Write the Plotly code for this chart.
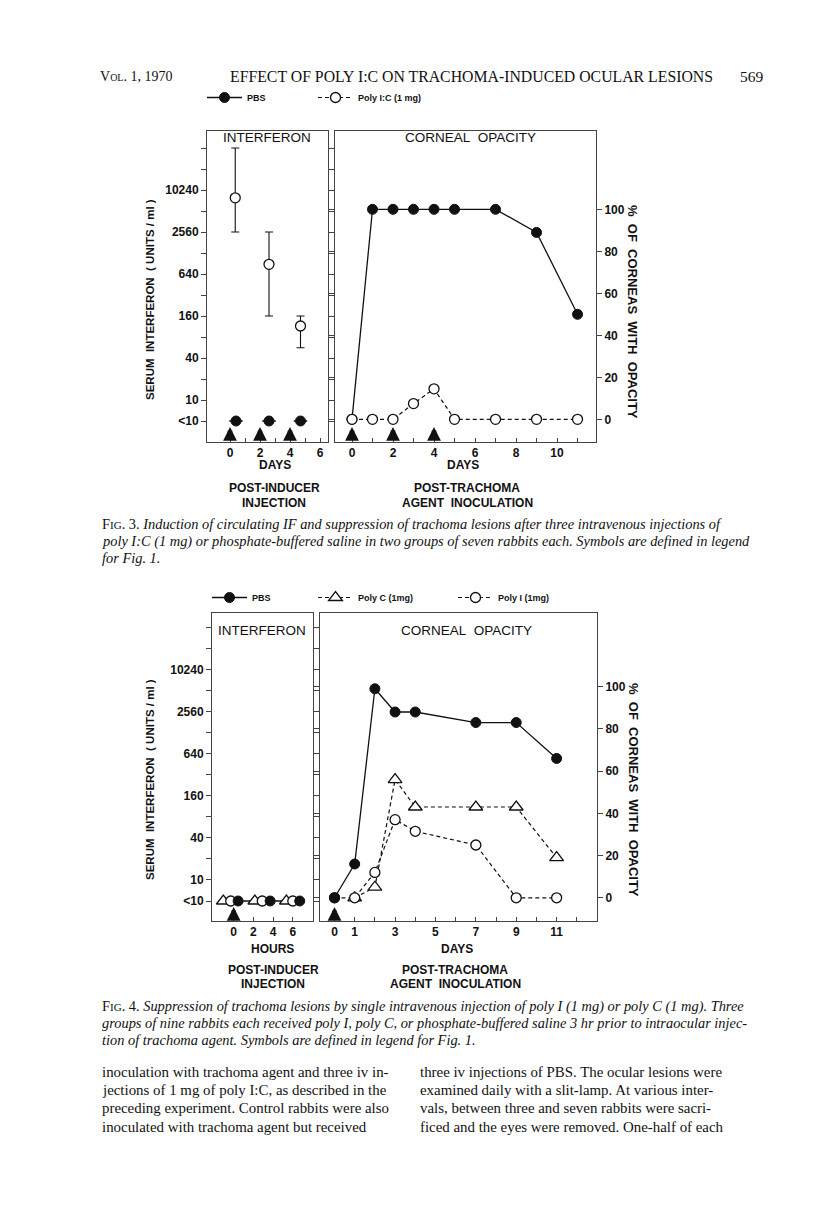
import plotly.graph_objects as go

W, H = 816, 1224
OFF = 8   # default body margin of the written page

# ---------------- data : Fig. 3 ----------------
f3_if_pic_day = [0.35, 2.6, 4.7]
f3_if_pic = [7900, 880, 115]
f3_if_pic_hi = [40960, 2560, 160]
f3_if_pic_lo = [2560, 160, 56]
f3_if_pbs_day = [0.4, 2.6, 4.7]
f3_if_pbs = [5, 5, 5]              # "<10" plotted at 5
f3_inducer_days = [0, 2, 4]
f3_op_day = [0, 1, 2, 3, 4, 5, 7, 9, 11]
f3_op_pbs = [0, 100, 100, 100, 100, 100, 100, 89, 50]
f3_op_pic = [0, 0, 0, 7.5, 14.5, 0, 0, 0, 0]
f3_agent_days = [0, 2, 4]

# ---------------- data : Fig. 4 ----------------
f4_if_polyc_hr = [-1.05, 2.15, 5.35]
f4_if_polyi_hr = [-0.3, 2.9, 6.0]
f4_if_pbs_hr = [0.45, 3.7, 6.7]
f4_if_val = [5, 5, 5]              # "<10"
f4_inducer_hr = [0]
f4_op_pbs_day = [0, 1, 2, 3, 4, 7, 9, 11]
f4_op_pbs = [0, 16, 99, 88, 88, 83, 83, 66]
f4_op_polyc_day = [1, 2, 3, 4, 7, 9, 11]
f4_op_polyc = [0, 5, 56, 43, 43, 43, 19]
f4_op_polyi_day = [0, 1, 2, 3, 4, 7, 9, 11]
f4_op_polyi = [0, 0, 12, 37, 31.5, 25, 0, 0]
f4_agent_days = [0]

# tick labels
if_tickvals = [5, 10, 20, 40, 80, 160, 320, 640, 1280, 2560, 5120, 10240, 20480, 40960]
if_ticktext = ['&lt;10', '10', '', '40', '', '160', '', '640', '', '2560', '', '10240', '', '']
pct_tickvals = [0, 20, 40, 60, 80, 100]
f3_day_ticks = list(range(0, 12))
f3_day_text = [str(d) if d % 2 == 0 else '' for d in f3_day_ticks]
f3_ind_ticks = list(range(0, 7))
f3_ind_text = [str(d) if d % 2 == 0 else '' for d in f3_ind_ticks]
f4_hr_ticks = [0, 2, 4, 6]
f4_hr_text = ['0', '2', '4', '6']
f4_day_ticks = list(range(0, 13))
f4_day_text = [str(d) if d in (0, 1, 3, 5, 7, 9, 11) else '' for d in f4_day_ticks]

SANS = 'Liberation Sans'
SERIF = 'Liberation Serif'
BLACK = '#111111'
DASH = '4px,3px'


def px_x(p):
    return (p - OFF) / W


def px_y(p):
    return 1 - (p - OFF) / H


fig = go.Figure()

filled = dict(color=BLACK, size=10, line=dict(color=BLACK, width=1))
opencirc = dict(color='white', size=10, line=dict(color=BLACK, width=1.3), symbol='circle')
opentri = dict(color='white', size=12, line=dict(color=BLACK, width=1.3), symbol='triangle-up')

# ---- Fig 3 left : interferon ----
fig.add_trace(go.Scatter(x=f3_if_pbs_day, y=f3_if_pbs, mode='markers', marker=filled,
                         error_x=dict(type='constant', value=0.45, width=0, thickness=1.5, color=BLACK),
                         xaxis='x', yaxis='y', showlegend=False))
fig.add_trace(go.Scatter(x=f3_if_pic_day, y=f3_if_pic, mode='markers', marker=opencirc,
                         error_y=dict(type='data', symmetric=False,
                                      array=[h - v for h, v in zip(f3_if_pic_hi, f3_if_pic)],
                                      arrayminus=[v - l for v, l in zip(f3_if_pic, f3_if_pic_lo)],
                                      width=4, thickness=1.1, color=BLACK),
                         xaxis='x', yaxis='y', showlegend=False))
# ---- Fig 3 right : corneal opacity ----
fig.add_trace(go.Scatter(x=f3_op_day, y=f3_op_pbs, mode='lines+markers', name='PBS',
                         line=dict(color=BLACK, width=1.3), marker=filled,
                         xaxis='x2', yaxis='y2', legend='legend'))
fig.add_trace(go.Scatter(x=f3_op_day, y=f3_op_pic, mode='lines+markers', name='Poly I:C (1 mg)',
                         line=dict(color=BLACK, width=1.2, dash=DASH), marker=opencirc,
                         xaxis='x2', yaxis='y2', legend='legend'))

# ---- Fig 4 left : interferon ----
fig.add_trace(go.Scatter(x=f4_if_pbs_hr, y=f4_if_val, mode='lines', line=dict(color=BLACK, width=1.3),
                         xaxis='x3', yaxis='y3', showlegend=False))
fig.add_trace(go.Scatter(x=f4_if_polyc_hr, y=f4_if_val, mode='markers', marker=opentri,
                         xaxis='x3', yaxis='y3', showlegend=False))
fig.add_trace(go.Scatter(x=f4_if_polyi_hr, y=f4_if_val, mode='markers', marker=opencirc,
                         xaxis='x3', yaxis='y3', showlegend=False))
fig.add_trace(go.Scatter(x=f4_if_pbs_hr, y=f4_if_val, mode='markers', marker=filled,
                         xaxis='x3', yaxis='y3', showlegend=False))
# ---- Fig 4 right : corneal opacity ----
fig.add_trace(go.Scatter(x=f4_op_polyc_day, y=f4_op_polyc, mode='lines+markers', name='Poly C (1mg)',
                         line=dict(color=BLACK, width=1.2, dash=DASH), marker=opentri,
                         xaxis='x4', yaxis='y4', legend='legend2', legendrank=2, legendwidth=90))
fig.add_trace(go.Scatter(x=f4_op_polyi_day, y=f4_op_polyi, mode='lines+markers', name='Poly I (1mg)',
                         line=dict(color=BLACK, width=1.2, dash=DASH), marker=opencirc,
                         xaxis='x4', yaxis='y4', legend='legend2', legendrank=3, legendwidth=70))
fig.add_trace(go.Scatter(x=f4_op_pbs_day, y=f4_op_pbs, mode='lines+markers', name='PBS',
                         line=dict(color=BLACK, width=1.3), marker=filled,
                         xaxis='x4', yaxis='y4', legend='legend2', legendrank=1, legendwidth=56))

# ---------------- axes ----------------
tickfont = dict(family=SANS, size=12, color=BLACK, weight='bold')


def ax_common(mirror='ticks', **kw):
    d = dict(showline=True, linecolor='#444444', linewidth=1, mirror=mirror, showgrid=False,
             zeroline=False, tickfont=tickfont, tickcolor='#444444', tickwidth=1, fixedrange=True)
    d.update(kw)
    return d


# pixel geometry of the panels
f3_top, f3_bot = 131, 442
f4_top, f4_bot = 613, 921

fig.update_layout(
    xaxis=ax_common(mirror=True, domain=[px_x(207), px_x(328)], range=[-1.533, 6.533], anchor='y',
                    tickmode='array', tickvals=f3_ind_ticks, ticktext=f3_ind_text, ticks='inside', ticklen=4),
    yaxis=ax_common(domain=[px_y(f3_bot), px_y(f3_top)], type='log', range=[0.398, 4.856], anchor='x',
                    tickmode='array', tickvals=if_tickvals, ticktext=if_ticktext, ticks='outside', ticklen=5),
    xaxis2=ax_common(mirror=True, domain=[px_x(335), px_x(596)], range=[-0.829, 11.9], anchor='y2',
                     tickmode='array', tickvals=f3_day_ticks, ticktext=f3_day_text, ticks='inside', ticklen=4),
    yaxis2=ax_common(domain=[px_y(f3_bot), px_y(f3_top)], range=[-10.8, 137.3], anchor='x2', side='right',
                     tickmode='array', tickvals=pct_tickvals, ticks='outside', ticklen=5),
    xaxis3=ax_common(mirror=True, domain=[px_x(212), px_x(313)], range=[-2.2, 8.05], anchor='y3',
                     tickmode='array', tickvals=f4_hr_ticks, ticktext=f4_hr_text, ticks='inside', ticklen=4),
    yaxis3=ax_common(domain=[px_y(f4_bot), px_y(f4_top)], type='log', range=[0.413, 4.816], anchor='x3',
                     tickmode='array', tickvals=if_tickvals, ticktext=if_ticktext, ticks='outside', ticklen=5),
    xaxis4=ax_common(mirror=True, domain=[px_x(320), px_x(597)], range=[-0.718, 13.0], anchor='y4',
                     tickmode='array', tickvals=f4_day_ticks, ticktext=f4_day_text, ticks='inside', ticklen=4),
    yaxis4=ax_common(domain=[px_y(f4_bot), px_y(f4_top)], range=[-11.0, 134.9], anchor='x4', side='right',
                     tickmode='array', tickvals=pct_tickvals, ticks='outside', ticklen=5),
)

legfont = dict(family=SANS, size=9, color=BLACK, weight='bold')
fig.update_layout(
    legend=dict(x=px_x(202), y=px_y(83), xanchor='left', yanchor='top', orientation='h',
                font=legfont, itemwidth=35, entrywidth=61, bgcolor='rgba(0,0,0,0)',
                itemclick=False, itemdoubleclick=False),
    legend2=dict(x=px_x(207), y=px_y(583), xanchor='left', yanchor='top', orientation='h',
                 font=legfont, itemwidth=35, traceorder='normal', bgcolor='rgba(0,0,0,0)',
                 itemclick=False, itemdoubleclick=False),
)

ann = []


def txt(x, y, s, size=12, family=SANS, bold=False, xanchor='center', angle=0):
    ann.append(dict(x=px_x(x), y=px_y(y), xref='paper', yref='paper', text=s, showarrow=False,
                    xanchor=xanchor, yanchor='middle', textangle=angle,
                    font=dict(family=family, size=size, color=BLACK,
                              weight=('bold' if bold else 'normal'))))


# header
sc = "<span style='font-size:10px'>%s</span>"
txt(98, 76, 'V' + sc % 'OL' + '. 1, 1970', 14, SERIF, xanchor='left')
txt(228, 76, 'EFFECT OF POLY I:C ON TRACHOMA-INDUCED OCULAR LESIONS', 15.8, SERIF, xanchor='left')
txt(752, 76, '569', 15.5, SERIF)

# Fig 3 panel labels
txt(267, 138, 'INTERFERON', 13.5)
txt(470, 138, 'CORNEAL&nbsp;&nbsp;OPACITY', 13.5)
txt(150, 300, 'SERUM&nbsp;&nbsp;INTERFERON&nbsp;&nbsp;(&nbsp;UNITS&nbsp;/&nbsp;ml&nbsp;)', 11.5, bold=True, angle=-90)
txt(633, 312, '%&nbsp;&nbsp;OF&nbsp;&nbsp;CORNEAS&nbsp;&nbsp;WITH&nbsp;&nbsp;OPACITY', 13, bold=True, angle=90)
txt(275, 465, 'DAYS', 12, bold=True)
txt(463, 465, 'DAYS', 12, bold=True)
txt(274, 488, 'POST-INDUCER', 12, bold=True)
txt(274, 503, 'INJECTION', 12, bold=True)
txt(467, 488, 'POST-TRACHOMA', 12, bold=True)
txt(467, 503, 'AGENT&nbsp;&nbsp;INOCULATION', 12, bold=True)

# Fig 3 caption
CAP = 14.4
fs = "F<span style='font-size:11px'>IG</span>. "
txt(100, 524, fs + '3. <i>Induction of circulating IF and suppression of trachoma lesions after three intravenous injections of</i>', CAP, SERIF, xanchor='left')
txt(100, 541, '<i>poly I:C (1 mg) or phosphate-buffered saline in two groups of seven rabbits each. Symbols are defined in legend</i>', CAP, SERIF, xanchor='left')
txt(100, 558, '<i>for Fig. 1.</i>', CAP, SERIF, xanchor='left')

# Fig 4 panel labels
txt(262, 630, 'INTERFERON', 13.5)
txt(466, 630, 'CORNEAL&nbsp;&nbsp;OPACITY', 13.5)
txt(150, 780, 'SERUM&nbsp;&nbsp;INTERFERON&nbsp;&nbsp;(&nbsp;UNITS&nbsp;/&nbsp;ml&nbsp;)', 11.5, bold=True, angle=-90)
txt(633, 790, '%&nbsp;&nbsp;OF&nbsp;&nbsp;CORNEAS&nbsp;&nbsp;WITH&nbsp;&nbsp;OPACITY', 13, bold=True, angle=90)
txt(272, 949, 'HOURS', 12, bold=True)
txt(457, 949, 'DAYS', 12, bold=True)
txt(273, 970, 'POST-INDUCER', 12, bold=True)
txt(273, 984, 'INJECTION', 12, bold=True)
txt(455, 970, 'POST-TRACHOMA', 12, bold=True)
txt(455, 984, 'AGENT&nbsp;&nbsp;INOCULATION', 12, bold=True)

# Fig 4 caption
txt(100, 1006, fs + '4. <i>Suppression of trachoma lesions by single intravenous injection of poly I (1 mg) or poly C (1 mg). Three</i>', CAP, SERIF, xanchor='left')
txt(100, 1023, '<i>groups of nine rabbits each received poly I, poly C, or phosphate-buffered saline 3 hr prior to intraocular injec-</i>', CAP, SERIF, xanchor='left')
txt(100, 1040, '<i>tion of trachoma agent. Symbols are defined in legend for Fig. 1.</i>', CAP, SERIF, xanchor='left')

# body text
left_col = ['inoculation with trachoma agent and three iv in-',
            'jections of 1 mg of poly I:C, as described in the',
            'preceding experiment. Control rabbits were also',
            'inoculated with trachoma agent but received']
right_col = ['three iv injections of PBS. The ocular lesions were',
             'examined daily with a slit-lamp. At various inter-',
             'vals, between three and seven rabbits were sacri-',
             'ficed and the eyes were removed. One-half of each']
for i, s in enumerate(left_col):
    txt(100, 1072 + i * 18.2, s, 14.9, SERIF, xanchor='left')
for i, s in enumerate(right_col):
    txt(418, 1072 + i * 18.2, s, 14.9, SERIF, xanchor='left')


# injection / inoculation arrows
def arrows(days, xref, tip_px):
    for d in days:
        ann.append(dict(x=d, y=px_y(tip_px), xref=xref, yref='paper', text='', showarrow=True,
                        ax=0, ay=14, arrowhead=2, arrowsize=0.6, arrowwidth=4.6, arrowcolor=BLACK,
                        standoff=0))


arrows(f3_inducer_days, 'x', 427)
arrows(f3_agent_days, 'x2', 427)
arrows(f4_inducer_hr, 'x3', 907)
arrows(f4_agent_days, 'x4', 907)

fig.update_layout(annotations=ann, width=W, height=H, margin=dict(l=0, r=0, t=0, b=0),
                  paper_bgcolor='white', plot_bgcolor='white', showlegend=True)

fig.write_html('out.html')
